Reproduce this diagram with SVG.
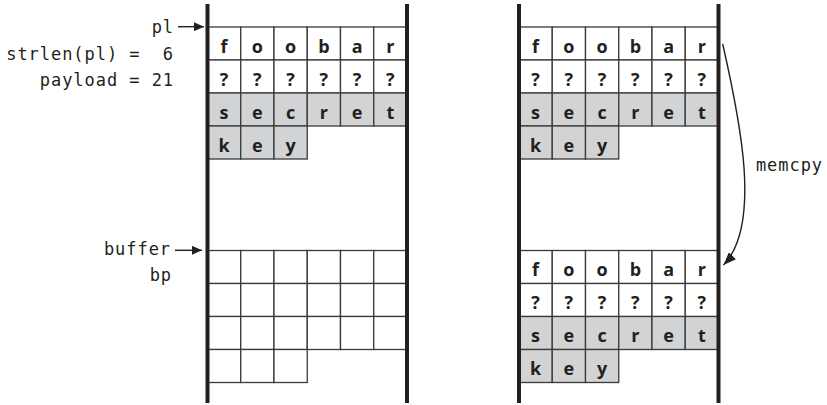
<svg xmlns="http://www.w3.org/2000/svg" width="827" height="405" viewBox="0 0 827 405">
<style>
.c{fill:#fff;stroke:#3a3a3a;stroke-width:1.3}
.g{fill:#d1d3d4;stroke:#3a3a3a;stroke-width:1.3}
.bar{stroke:#231f20;stroke-width:4;fill:none}
.t{font-family:"Open Sans","DejaVu Sans",sans-serif;font-weight:700;font-size:18px;fill:#231f20;text-anchor:middle}
.m{font-family:"DejaVu Sans Mono","Liberation Mono",monospace;font-size:17px;letter-spacing:0.95px;fill:#231f20;text-anchor:end;white-space:pre}
.ln{stroke:#231f20;stroke-width:1.4;fill:none}
</style>
<defs>
<marker id="ah" markerUnits="userSpaceOnUse" markerWidth="10" markerHeight="9" refX="10" refY="4.5" orient="auto">
<path d="M0,0 L10,4.5 L0,9 z" fill="#231f20"/>
</marker>
<marker id="ah2" markerUnits="userSpaceOnUse" markerWidth="13" markerHeight="10" refX="13" refY="5" orient="auto">
<path d="M0,0 L13,5 L0,10 z" fill="#231f20"/>
</marker>
</defs>

<g id="left-panel">
<g id="left-payload">
<rect class="c" x="207.5" y="27" width="33.25" height="33"/><rect class="c" x="240.75" y="27" width="33.25" height="33"/><rect class="c" x="274" y="27" width="33.25" height="33"/><rect class="c" x="307.25" y="27" width="33.25" height="33"/><rect class="c" x="340.5" y="27" width="33.25" height="33"/><rect class="c" x="373.75" y="27" width="33.25" height="33"/>
<rect class="c" x="207.5" y="60" width="33.25" height="33"/><rect class="c" x="240.75" y="60" width="33.25" height="33"/><rect class="c" x="274" y="60" width="33.25" height="33"/><rect class="c" x="307.25" y="60" width="33.25" height="33"/><rect class="c" x="340.5" y="60" width="33.25" height="33"/><rect class="c" x="373.75" y="60" width="33.25" height="33"/>
<rect class="g" x="207.5" y="93" width="33.25" height="33"/><rect class="g" x="240.75" y="93" width="33.25" height="33"/><rect class="g" x="274" y="93" width="33.25" height="33"/><rect class="g" x="307.25" y="93" width="33.25" height="33"/><rect class="g" x="340.5" y="93" width="33.25" height="33"/><rect class="g" x="373.75" y="93" width="33.25" height="33"/>
<rect class="g" x="207.5" y="126" width="33.25" height="33"/><rect class="g" x="240.75" y="126" width="33.25" height="33"/><rect class="g" x="274" y="126" width="33.25" height="33"/>
<text class="t" x="224.1" y="52.5">f</text><text class="t" x="257.4" y="52.5">o</text><text class="t" x="290.6" y="52.5">o</text><text class="t" x="323.9" y="52.5">b</text><text class="t" x="357.1" y="52.5">a</text><text class="t" x="390.4" y="52.5">r</text>
<text class="t" x="224.1" y="85.5">?</text><text class="t" x="257.4" y="85.5">?</text><text class="t" x="290.6" y="85.5">?</text><text class="t" x="323.9" y="85.5">?</text><text class="t" x="357.1" y="85.5">?</text><text class="t" x="390.4" y="85.5">?</text>
<text class="t" x="224.1" y="118.5">s</text><text class="t" x="257.4" y="118.5">e</text><text class="t" x="290.6" y="118.5">c</text><text class="t" x="323.9" y="118.5">r</text><text class="t" x="357.1" y="118.5">e</text><text class="t" x="390.4" y="118.5">t</text>
<text class="t" x="224.1" y="151.5">k</text><text class="t" x="257.4" y="151.5">e</text><text class="t" x="290.6" y="151.5">y</text>
</g>
<g id="left-buffer">
<rect class="c" x="207.5" y="250.5" width="33.25" height="33"/><rect class="c" x="240.75" y="250.5" width="33.25" height="33"/><rect class="c" x="274" y="250.5" width="33.25" height="33"/><rect class="c" x="307.25" y="250.5" width="33.25" height="33"/><rect class="c" x="340.5" y="250.5" width="33.25" height="33"/><rect class="c" x="373.75" y="250.5" width="33.25" height="33"/>
<rect class="c" x="207.5" y="283.5" width="33.25" height="33"/><rect class="c" x="240.75" y="283.5" width="33.25" height="33"/><rect class="c" x="274" y="283.5" width="33.25" height="33"/><rect class="c" x="307.25" y="283.5" width="33.25" height="33"/><rect class="c" x="340.5" y="283.5" width="33.25" height="33"/><rect class="c" x="373.75" y="283.5" width="33.25" height="33"/>
<rect class="c" x="207.5" y="316.5" width="33.25" height="33"/><rect class="c" x="240.75" y="316.5" width="33.25" height="33"/><rect class="c" x="274" y="316.5" width="33.25" height="33"/><rect class="c" x="307.25" y="316.5" width="33.25" height="33"/><rect class="c" x="340.5" y="316.5" width="33.25" height="33"/><rect class="c" x="373.75" y="316.5" width="33.25" height="33"/>
<rect class="c" x="207.5" y="349.5" width="33.25" height="33"/><rect class="c" x="240.75" y="349.5" width="33.25" height="33"/><rect class="c" x="274" y="349.5" width="33.25" height="33"/>
</g>
<line class="bar" x1="207.5" y1="4" x2="207.5" y2="403"/>
<line class="bar" x1="407" y1="4" x2="407" y2="403"/>
<text class="m" x="174" y="33">pl</text>
<text class="m" x="174" y="60">strlen(pl) =  6</text>
<text class="m" x="174" y="86">payload = 21</text>
<text class="m" x="171" y="255">buffer</text>
<text class="m" x="172" y="281">bp</text>
</g>

<g id="right-panel">
<g id="right-payload">
<rect class="c" x="519" y="27" width="33.25" height="33"/><rect class="c" x="552.25" y="27" width="33.25" height="33"/><rect class="c" x="585.5" y="27" width="33.25" height="33"/><rect class="c" x="618.75" y="27" width="33.25" height="33"/><rect class="c" x="652" y="27" width="33.25" height="33"/><rect class="c" x="685.25" y="27" width="33.25" height="33"/>
<rect class="c" x="519" y="60" width="33.25" height="33"/><rect class="c" x="552.25" y="60" width="33.25" height="33"/><rect class="c" x="585.5" y="60" width="33.25" height="33"/><rect class="c" x="618.75" y="60" width="33.25" height="33"/><rect class="c" x="652" y="60" width="33.25" height="33"/><rect class="c" x="685.25" y="60" width="33.25" height="33"/>
<rect class="g" x="519" y="93" width="33.25" height="33"/><rect class="g" x="552.25" y="93" width="33.25" height="33"/><rect class="g" x="585.5" y="93" width="33.25" height="33"/><rect class="g" x="618.75" y="93" width="33.25" height="33"/><rect class="g" x="652" y="93" width="33.25" height="33"/><rect class="g" x="685.25" y="93" width="33.25" height="33"/>
<rect class="g" x="519" y="126" width="33.25" height="33"/><rect class="g" x="552.25" y="126" width="33.25" height="33"/><rect class="g" x="585.5" y="126" width="33.25" height="33"/>
<text class="t" x="535.6" y="52.5">f</text><text class="t" x="568.9" y="52.5">o</text><text class="t" x="602.1" y="52.5">o</text><text class="t" x="635.4" y="52.5">b</text><text class="t" x="668.6" y="52.5">a</text><text class="t" x="701.9" y="52.5">r</text>
<text class="t" x="535.6" y="85.5">?</text><text class="t" x="568.9" y="85.5">?</text><text class="t" x="602.1" y="85.5">?</text><text class="t" x="635.4" y="85.5">?</text><text class="t" x="668.6" y="85.5">?</text><text class="t" x="701.9" y="85.5">?</text>
<text class="t" x="535.6" y="118.5">s</text><text class="t" x="568.9" y="118.5">e</text><text class="t" x="602.1" y="118.5">c</text><text class="t" x="635.4" y="118.5">r</text><text class="t" x="668.6" y="118.5">e</text><text class="t" x="701.9" y="118.5">t</text>
<text class="t" x="535.6" y="151.5">k</text><text class="t" x="568.9" y="151.5">e</text><text class="t" x="602.1" y="151.5">y</text>
</g>
<g id="right-buffer">
<rect class="c" x="519" y="250.5" width="33.25" height="33"/><rect class="c" x="552.25" y="250.5" width="33.25" height="33"/><rect class="c" x="585.5" y="250.5" width="33.25" height="33"/><rect class="c" x="618.75" y="250.5" width="33.25" height="33"/><rect class="c" x="652" y="250.5" width="33.25" height="33"/><rect class="c" x="685.25" y="250.5" width="33.25" height="33"/>
<rect class="c" x="519" y="283.5" width="33.25" height="33"/><rect class="c" x="552.25" y="283.5" width="33.25" height="33"/><rect class="c" x="585.5" y="283.5" width="33.25" height="33"/><rect class="c" x="618.75" y="283.5" width="33.25" height="33"/><rect class="c" x="652" y="283.5" width="33.25" height="33"/><rect class="c" x="685.25" y="283.5" width="33.25" height="33"/>
<rect class="g" x="519" y="316.5" width="33.25" height="33"/><rect class="g" x="552.25" y="316.5" width="33.25" height="33"/><rect class="g" x="585.5" y="316.5" width="33.25" height="33"/><rect class="g" x="618.75" y="316.5" width="33.25" height="33"/><rect class="g" x="652" y="316.5" width="33.25" height="33"/><rect class="g" x="685.25" y="316.5" width="33.25" height="33"/>
<rect class="g" x="519" y="349.5" width="33.25" height="33"/><rect class="g" x="552.25" y="349.5" width="33.25" height="33"/><rect class="g" x="585.5" y="349.5" width="33.25" height="33"/>
<text class="t" x="535.6" y="276">f</text><text class="t" x="568.9" y="276">o</text><text class="t" x="602.1" y="276">o</text><text class="t" x="635.4" y="276">b</text><text class="t" x="668.6" y="276">a</text><text class="t" x="701.9" y="276">r</text>
<text class="t" x="535.6" y="309">?</text><text class="t" x="568.9" y="309">?</text><text class="t" x="602.1" y="309">?</text><text class="t" x="635.4" y="309">?</text><text class="t" x="668.6" y="309">?</text><text class="t" x="701.9" y="309">?</text>
<text class="t" x="535.6" y="342">s</text><text class="t" x="568.9" y="342">e</text><text class="t" x="602.1" y="342">c</text><text class="t" x="635.4" y="342">r</text><text class="t" x="668.6" y="342">e</text><text class="t" x="701.9" y="342">t</text>
<text class="t" x="535.6" y="375">k</text><text class="t" x="568.9" y="375">e</text><text class="t" x="602.1" y="375">y</text>
</g>
<line class="bar" x1="519" y1="4" x2="519" y2="403"/>
<line class="bar" x1="718.5" y1="4" x2="718.5" y2="403"/>
<text class="m" x="823" y="171">memcpy</text>
</g>

<g id="connectors">
<line class="ln" x1="178" y1="26.7" x2="204" y2="26.7" marker-end="url(#ah)"/>
<line class="ln" x1="175" y1="250.3" x2="202" y2="250.3" marker-end="url(#ah)"/>
<path class="ln" d="M722.7,44 C740,120 762,225 723.5,265" marker-end="url(#ah2)"/>
</g>
</svg>
